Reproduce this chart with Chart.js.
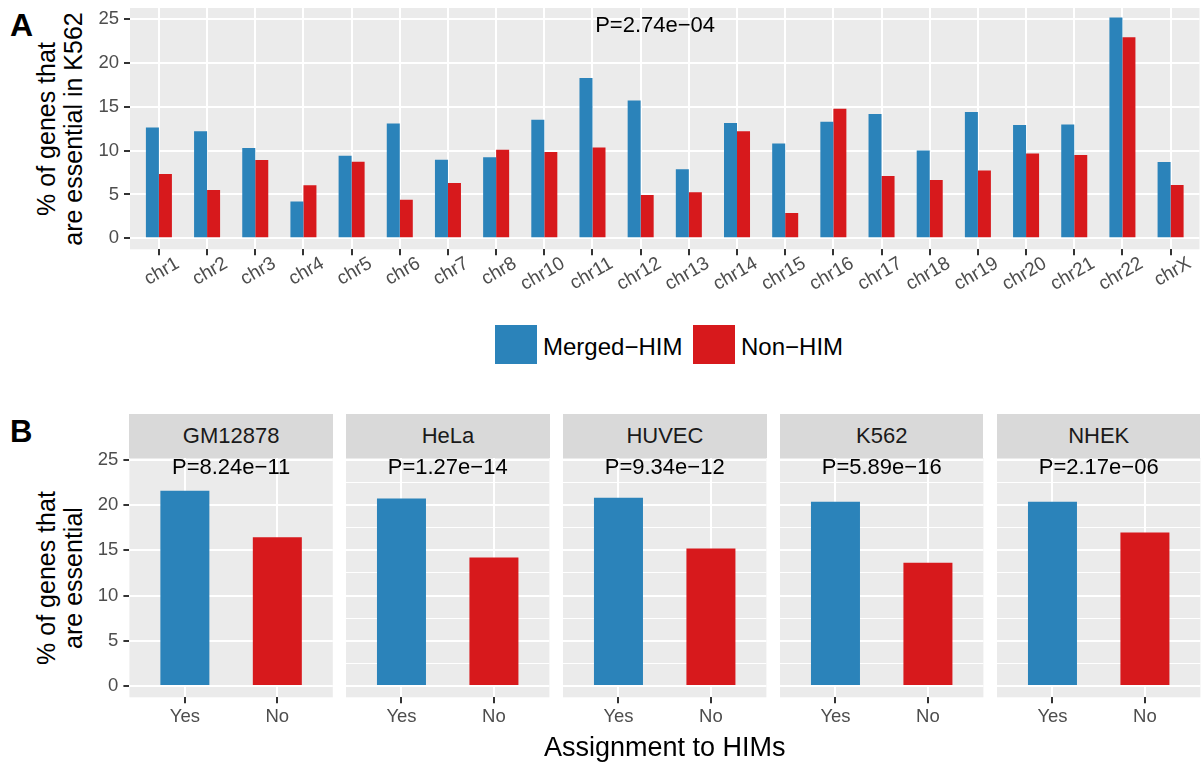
<!DOCTYPE html>
<html>
<head>
<meta charset="utf-8">
<script src="https://cdn.jsdelivr.net/npm/chart.js@4.4.1/dist/chart.umd.min.js"></script>
<style>
  html, body { margin: 0; padding: 0; background: #fff; }
  body { position: relative; width: 1201px; height: 765px; overflow: hidden;
         font-family: "Liberation Sans", Arial, Helvetica, sans-serif; }
  canvas { position: absolute; }
  .txt { position: absolute; white-space: nowrap; line-height: 1; }
  .letter { font-weight: bold; color: #000; }
  .ytitle { position: absolute; text-align: center; font-size: 25px; line-height: 27px;
            color: #000; transform: rotate(-90deg); white-space: nowrap; }
  .strip { position: absolute; background: #D9D9D9; color: #1A1A1A; font-size: 22px;
           text-align: center; }
  .key { position: absolute; }
</style>
</head>
<body>
<div class="txt letter" style="left:10px; top:9px; font-size:32px;">A</div>
<div class="txt letter" style="left:10px; top:416px; font-size:31px;">B</div>

<div id="titleA" class="ytitle"></div>
<div id="titleB" class="ytitle"></div>

<canvas id="chrChart" width="1201" height="300" style="left:0; top:0;"></canvas>

<div id="legend"></div>
<div id="strips"></div>
<div id="facets"></div>

<div id="xTitleB" class="txt" style="font-size:27px; color:#000;"></div>

<script>
// ---- data -------------------------------------------------------------
const chromosomes = ['chr1', 'chr2', 'chr3', 'chr4', 'chr5', 'chr6', 'chr7', 'chr8',
  'chr10', 'chr11', 'chr12', 'chr13', 'chr14', 'chr15', 'chr16', 'chr17', 'chr18',
  'chr19', 'chr20', 'chr21', 'chr22', 'chrX'];
const mergedHim = [12.64, 12.19, 10.29, 4.21, 9.42, 13.10, 8.96, 9.23,
  13.52, 18.26, 15.72, 7.86, 13.14, 10.82, 13.29, 14.16, 10.02,
  14.39, 12.91, 12.98, 25.17, 8.69];
const nonHim = [7.33, 5.50, 8.92, 6.04, 8.73, 4.40, 6.30, 10.10,
  9.83, 10.36, 4.94, 5.24, 12.19, 2.89, 14.77, 7.10, 6.64,
  7.74, 9.68, 9.49, 22.93, 6.07];
const seriesNames = ['Merged\u2212HIM', 'Non\u2212HIM'];
const chromPValue = 'P=2.74e\u221204';

const cellLines = ['GM12878', 'HeLa', 'HUVEC', 'K562', 'NHEK'];
const himYes = [21.58, 20.73, 20.81, 20.37, 20.37];
const himNo = [16.45, 14.21, 15.20, 13.63, 16.96];
const cellPValues = ['P=8.24e\u221211', 'P=1.27e\u221214', 'P=9.34e\u221212',
  'P=5.89e\u221216', 'P=2.17e\u221206'];
const assignLabels = ['Yes', 'No'];

const percentTicks = [0, 2.5, 5, 7.5, 10, 12.5, 15, 17.5, 20, 22.5, 25];

const titleA = ['% of genes that', 'are essential in K562'];
const titleB = ['% of genes that', 'are essential'];
const xTitleB = 'Assignment to HIMs';

// ---- styling ----------------------------------------------------------
const BLUE = '#2B83BA';
const RED = '#D7191C';
const PANEL_BG = '#EBEBEB';
const INK = '#4D4D4D';
const TICK_INK = '#333333';
const FAMILY = '"Liberation Sans", Arial, Helvetica, sans-serif';
const TICK_FONT = { family: FAMILY, size: 18.5 };
const CHR_FONT = { family: FAMILY, size: 19 };

Chart.defaults.animation = false;
Chart.defaults.responsive = false;
Chart.defaults.maintainAspectRatio = false;
Chart.defaults.devicePixelRatio = 1;

// grey panel behind grid and bars
const panelBg = {
  id: 'panelBg',
  beforeDraw(chart) {
    const { ctx, chartArea: a } = chart;
    ctx.save();
    ctx.fillStyle = PANEL_BG;
    ctx.fillRect(a.left, a.top, a.right - a.left, a.bottom - a.top);
    ctx.restore();
  }
};

// p-value annotation placed in data coordinates
const pLabel = {
  id: 'pLabel',
  afterDatasetsDraw(chart, args, opts) {
    const { ctx, scales: { x, y } } = chart;
    ctx.save();
    ctx.font = '22px ' + FAMILY;
    ctx.fillStyle = '#000';
    ctx.textAlign = 'center';
    ctx.textBaseline = 'middle';
    ctx.fillText(opts.text, x.getPixelForValue(opts.x), y.getPixelForValue(opts.y));
    ctx.restore();
  }
};

const isMajor = v => Math.abs(v % 5) < 1e-9;

// fixed axis boxes: no extra room reserved for labels overhanging the panel
function noOverhang(s) {
  s.paddingTop = 0; s.paddingBottom = 0; s.paddingLeft = 0; s.paddingRight = 0;
}

function percentAxis(axisWidth, maxValue, showLabels) {
  return {
    type: 'linear',
    min: -1.25,
    max: maxValue,
    afterBuildTicks: s => { s.ticks = percentTicks.map(v => ({ value: v })); },
    afterFit: s => { s.width = axisWidth; noOverhang(s); },
    border: { display: false },
    grid: {
      color: '#FFFFFF',
      lineWidth: c => (c.tick && isMajor(c.tick.value)) ? 2 : 1,
      drawTicks: showLabels,
      tickLength: 6,
      tickWidth: 2,
      tickColor: c => (c.tick && isMajor(c.tick.value)) ? TICK_INK : 'rgba(0,0,0,0)'
    },
    ticks: {
      display: showLabels,
      color: INK,
      font: TICK_FONT,
      padding: 5,
      callback: v => isMajor(v) ? String(v) : ''
    }
  };
}

// ---- panel A: per-chromosome grouped bars -----------------------------
new Chart(document.getElementById('chrChart'), {
  type: 'bar',
  data: {
    datasets: [
      {
        label: seriesNames[0],
        data: chromosomes.map((c, i) => ({ x: i + 1, y: mergedHim[i] })),
        backgroundColor: BLUE
      },
      {
        label: seriesNames[1],
        data: chromosomes.map((c, i) => ({ x: i + 1, y: nonHim[i] })),
        backgroundColor: RED
      }
    ]
  },
  options: {
    layout: { autoPadding: false, padding: { left: 0, right: 1.5, top: 8, bottom: 0 } },
    datasets: { bar: { categoryPercentage: 0.54, barPercentage: 1, borderWidth: 0 } },
    plugins: {
      legend: { display: false },
      tooltip: { enabled: false },
      pLabel: { text: chromPValue, x: 11.3, y: 24.2 }
    },
    scales: {
      x: {
        type: 'linear',
        min: 0.4,
        max: chromosomes.length + 0.6,
        offset: false,
        afterBuildTicks: s => { s.ticks = chromosomes.map((c, i) => ({ value: i + 1 })); },
        afterFit: s => { s.height = 50.7; noOverhang(s); },
        border: { display: false },
        grid: { offset: false, color: '#FFFFFF', lineWidth: 2, tickLength: 6,
                tickWidth: 2, tickColor: TICK_INK },
        ticks: {
          autoSkip: false, minRotation: 30, maxRotation: 30,
          labelOffset: 19, padding: -3,
          color: INK, font: CHR_FONT,
          callback: v => chromosomes[Math.round(v) - 1]
        }
      },
      y: percentAxis(130, 26.25, true)
    }
  },
  plugins: [panelBg, pLabel]
});

// ---- legend ------------------------------------------------------------
(function buildLegend() {
  const host = document.getElementById('legend');
  const keys = [
    { color: BLUE, text: seriesNames[0], box: 495, label: 543 },
    { color: RED, text: seriesNames[1], box: 693, label: 741 }
  ];
  keys.forEach(k => {
    const sw = document.createElement('div');
    sw.className = 'key';
    sw.style.cssText = `left:${k.box}px; top:325px; width:42px; height:39px; background:${k.color};`;
    host.appendChild(sw);
    const t = document.createElement('div');
    t.className = 'txt';
    t.style.cssText = `left:${k.label}px; top:335px; font-size:24px; color:#000;`;
    t.textContent = k.text;
    host.appendChild(t);
  });
})();

// ---- panel B: one facet per cell line ---------------------------------
const FACET_LEFT0 = 129.4, FACET_STEP = 216.9, FACET_W = 203.4;
const FACET_TOP = 450, FACET_H = 290;

cellLines.forEach((name, k) => {
  const panelLeft = FACET_LEFT0 + k * FACET_STEP;
  const axisW = k === 0 ? panelLeft : 0;
  const canvasLeft = k === 0 ? 0 : panelLeft;
  const canvasW = Math.ceil(axisW + FACET_W + 4);

  const strip = document.createElement('div');
  strip.className = 'strip';
  strip.style.cssText = `left:${panelLeft}px; top:414px; width:${FACET_W}px; height:44px; line-height:44px;`;
  strip.textContent = name;
  document.getElementById('strips').appendChild(strip);

  const cv = document.createElement('canvas');
  cv.width = canvasW;
  cv.height = FACET_H;
  cv.style.left = canvasLeft + 'px';
  cv.style.top = FACET_TOP + 'px';
  document.getElementById('facets').appendChild(cv);

  new Chart(cv, {
    type: 'bar',
    data: {
      datasets: [{
        label: name,
        data: [{ x: 1, y: himYes[k] }, { x: 2, y: himNo[k] }],
        backgroundColor: [BLUE, RED]
      }]
    },
    options: {
      layout: { autoPadding: false,
                padding: { left: 0, right: canvasW - axisW - FACET_W, top: 8, bottom: 0 } },
      datasets: { bar: { categoryPercentage: 0.53, barPercentage: 1, borderWidth: 0 } },
      plugins: {
        legend: { display: false },
        tooltip: { enabled: false },
        pLabel: { text: cellPValues[k], x: 1.5, y: 24.05 }
      },
      scales: {
        x: {
          type: 'linear',
          min: 0.4,
          max: assignLabels.length + 0.6,
          offset: false,
          afterBuildTicks: s => { s.ticks = assignLabels.map((a, i) => ({ value: i + 1 })); },
          afterFit: s => { s.height = 42.7; noOverhang(s); },
          border: { display: false },
          grid: { offset: false, color: '#FFFFFF', lineWidth: 2, tickLength: 6,
                  tickWidth: 2, tickColor: TICK_INK },
          ticks: {
            color: INK, font: TICK_FONT, padding: 3,
            callback: v => assignLabels[Math.round(v) - 1]
          }
        },
        y: percentAxis(axisW, 25.2, k === 0)
      }
    },
    plugins: [panelBg, pLabel]
  });
});

// ---- axis titles -------------------------------------------------------
function placeYTitle(id, lines, cx, cy) {
  const el = document.getElementById(id);
  el.innerHTML = lines.map(l => `<div>${l}</div>`).join('');
  const w = 320, h = 27 * lines.length;
  el.style.width = w + 'px';
  el.style.height = h + 'px';
  el.style.left = (cx - w / 2) + 'px';
  el.style.top = (cy - h / 2) + 'px';
}
placeYTitle('titleA', titleA, 59.5, 128.5);
placeYTitle('titleB', titleB, 59.5, 577.5);

(function placeXTitle() {
  const el = document.getElementById('xTitleB');
  el.textContent = xTitleB;
  el.style.top = '734px';
  el.style.left = '0px';
  const w = el.getBoundingClientRect().width;
  el.style.left = (664.8 - w / 2) + 'px';
})();
</script>
</body>
</html>
